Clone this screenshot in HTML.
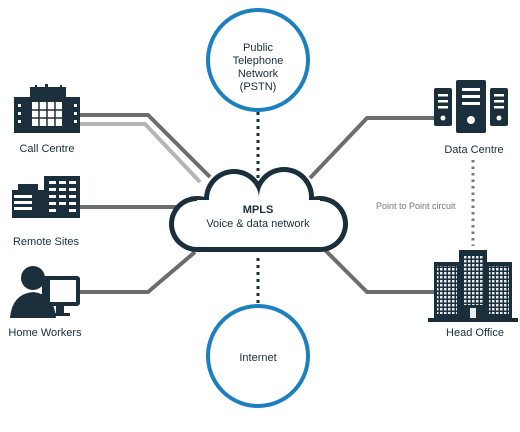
<!DOCTYPE html>
<html><head><style>
html,body{margin:0;padding:0;background:#fff;}
svg{display:block;font-family:"Liberation Sans",sans-serif;}
</style></head><body>
<svg width="520" height="432" viewBox="0 0 520 432">
<defs><pattern id="w" width="4" height="4" patternUnits="userSpaceOnUse"><rect width="2.5" height="2.5" fill="#fff"/></pattern></defs>
<g fill="none" stroke-width="4">
<polyline points="80,124 145,124 200,182" stroke="#b5b5b5"/>
<polyline points="80,115 148,115 210,177" stroke="#6d6d6d"/>
<line x1="80" y1="207" x2="180" y2="207" stroke="#6d6d6d"/>
<polyline points="80,292 148,292 195,252" stroke="#6d6d6d"/>
<polyline points="310,178 367,118 435,118" stroke="#6d6d6d"/>
<polyline points="325,250 367,292 435,292" stroke="#6d6d6d"/>
</g>
<g stroke="#1a2e3b" stroke-width="3" stroke-dasharray="3,4" fill="none">
<line x1="258" y1="112" x2="258" y2="185"/>
<line x1="258" y1="258" x2="258" y2="304"/>
</g>
<line x1="473" y1="160" x2="473" y2="246" stroke="#777" stroke-width="3" stroke-dasharray="2.5,4"/>
<circle cx="258" cy="60" r="50" fill="#fff" stroke="#1b7fc0" stroke-width="4"/>
<circle cx="258" cy="356" r="50" fill="#fff" stroke="#1b7fc0" stroke-width="4"/>
<!-- cloud -->
<g fill="#1a2e3b">
<rect x="197" y="210" width="123" height="42"/>
<circle cx="234" cy="199" r="30"/>
<circle cx="284" cy="197" r="30"/>
<circle cx="197" cy="224" r="28"/>
<circle cx="320" cy="224" r="28"/>
</g>
<g fill="#fff">
<rect x="197" y="200" width="123" height="47"/>
<circle cx="234" cy="199" r="25"/>
<circle cx="284" cy="197" r="25"/>
<circle cx="197" cy="224" r="23"/>
<circle cx="320" cy="224" r="23"/>
</g>
<text x="258" y="213" font-size="11" font-weight="bold" text-anchor="middle" fill="#1a2e3b">MPLS</text>
<text x="258" y="227" font-size="11" text-anchor="middle" fill="#1a2e3b">Voice &amp; data network</text>
<g font-size="11" text-anchor="middle" fill="#1a2e3b">
<text x="258" y="51">Public</text>
<text x="258" y="64">Telephone</text>
<text x="258" y="77">Network</text>
<text x="258" y="90">(PSTN)</text>
<text x="258" y="361">Internet</text>
<text x="47" y="152">Call Centre</text>
<text x="46" y="245">Remote Sites</text>
<text x="45" y="336">Home Workers</text>
<text x="474" y="153">Data Centre</text>
<text x="475" y="336">Head Office</text>
</g>
<text x="376" y="209" font-size="9" fill="#777">Point to Point circuit</text>
<!-- call centre -->
<g fill="#1a2e3b">
<rect x="14" y="97" width="66" height="36"/>
<rect x="30" y="87" width="36" height="12"/>
<rect x="45" y="84" width="3" height="5"/>
<rect x="35" y="85" width="2" height="4"/>
<rect x="60" y="85" width="2" height="4"/>
</g>
<rect x="32" y="102" width="30" height="24" fill="#fff"/>
<g stroke="#1a2e3b" stroke-width="1.5">
<line x1="39" y1="102" x2="39" y2="126"/><line x1="47" y1="102" x2="47" y2="126"/><line x1="55" y1="102" x2="55" y2="126"/>
<line x1="32" y1="110" x2="62" y2="110"/><line x1="32" y1="118" x2="62" y2="118"/>
</g>
<g fill="#fff"><rect x="18" y="104" width="3" height="3"/><rect x="18" y="112" width="3" height="3"/><rect x="18" y="120" width="3" height="3"/><rect x="74" y="104" width="3" height="3"/><rect x="74" y="112" width="3" height="3"/><rect x="74" y="120" width="3" height="3"/></g>
<!-- remote sites -->
<g fill="#1a2e3b">
<rect x="12" y="190" width="32" height="28"/>
<rect x="18" y="184" width="20" height="8"/>
<rect x="44" y="176" width="36" height="42"/>
</g>
<g fill="#fff">
<rect x="14" y="195" width="18" height="3"/><rect x="14" y="201" width="18" height="3"/><rect x="14" y="207" width="18" height="3"/>
<rect x="49" y="181" width="7" height="3"/><rect x="59" y="181" width="7" height="3"/><rect x="69" y="181" width="7" height="3"/>
<rect x="49" y="188" width="7" height="3"/><rect x="59" y="188" width="7" height="3"/><rect x="69" y="188" width="7" height="3"/>
<rect x="49" y="195" width="7" height="3"/><rect x="59" y="195" width="7" height="3"/><rect x="69" y="195" width="7" height="3"/>
<rect x="49" y="202" width="7" height="3"/><rect x="59" y="202" width="7" height="3"/><rect x="69" y="202" width="7" height="3"/>
<rect x="49" y="209" width="7" height="3"/><rect x="69" y="209" width="7" height="3"/>
</g>
<!-- home worker -->
<g fill="#1a2e3b">
<circle cx="33" cy="278" r="12"/>
<path d="M10 318 Q12 294 33 292 Q54 294 56 318 Z"/>
<rect x="42" y="276" width="38" height="30" rx="3"/>
<rect x="56" y="306" width="8" height="8"/>
<rect x="50" y="313" width="20" height="3"/>
</g>
<rect x="50" y="280" width="26" height="22" fill="#fff"/>
<!-- data centre -->
<g fill="#1a2e3b">
<rect x="434" y="88" width="18" height="38" rx="2"/>
<rect x="456" y="80" width="30" height="53" rx="2"/>
<rect x="490" y="88" width="18" height="38" rx="2"/>
</g>
<g fill="#fff">
<rect x="438" y="94" width="10" height="2.5"/><rect x="438" y="100" width="10" height="2.5"/><rect x="438" y="106" width="10" height="2.5"/><circle cx="443" cy="118" r="2.5"/>
<rect x="494" y="94" width="10" height="2.5"/><rect x="494" y="100" width="10" height="2.5"/><rect x="494" y="106" width="10" height="2.5"/><circle cx="499" cy="118" r="2.5"/>
<rect x="462" y="88" width="18" height="3"/><rect x="462" y="95" width="18" height="3"/><rect x="462" y="102" width="18" height="3"/><circle cx="471" cy="120" r="4"/>
</g>
<!-- head office -->
<g fill="#1a2e3b">
<rect x="434" y="262" width="26" height="58"/>
<rect x="459" y="250" width="28" height="70"/>
<rect x="486" y="262" width="26" height="58"/>
<rect x="428" y="318" width="90" height="4"/>
</g>
<g fill="#fff" opacity="0.9">
<rect x="437" y="266" width="20" height="48" fill="url(#w)"/>
<rect x="489" y="266" width="20" height="48" fill="url(#w)"/>
<rect x="463" y="255" width="20" height="50" fill="url(#w)"/>
<rect x="470" y="308" width="6" height="10"/>
</g>
</svg>
</body></html>
